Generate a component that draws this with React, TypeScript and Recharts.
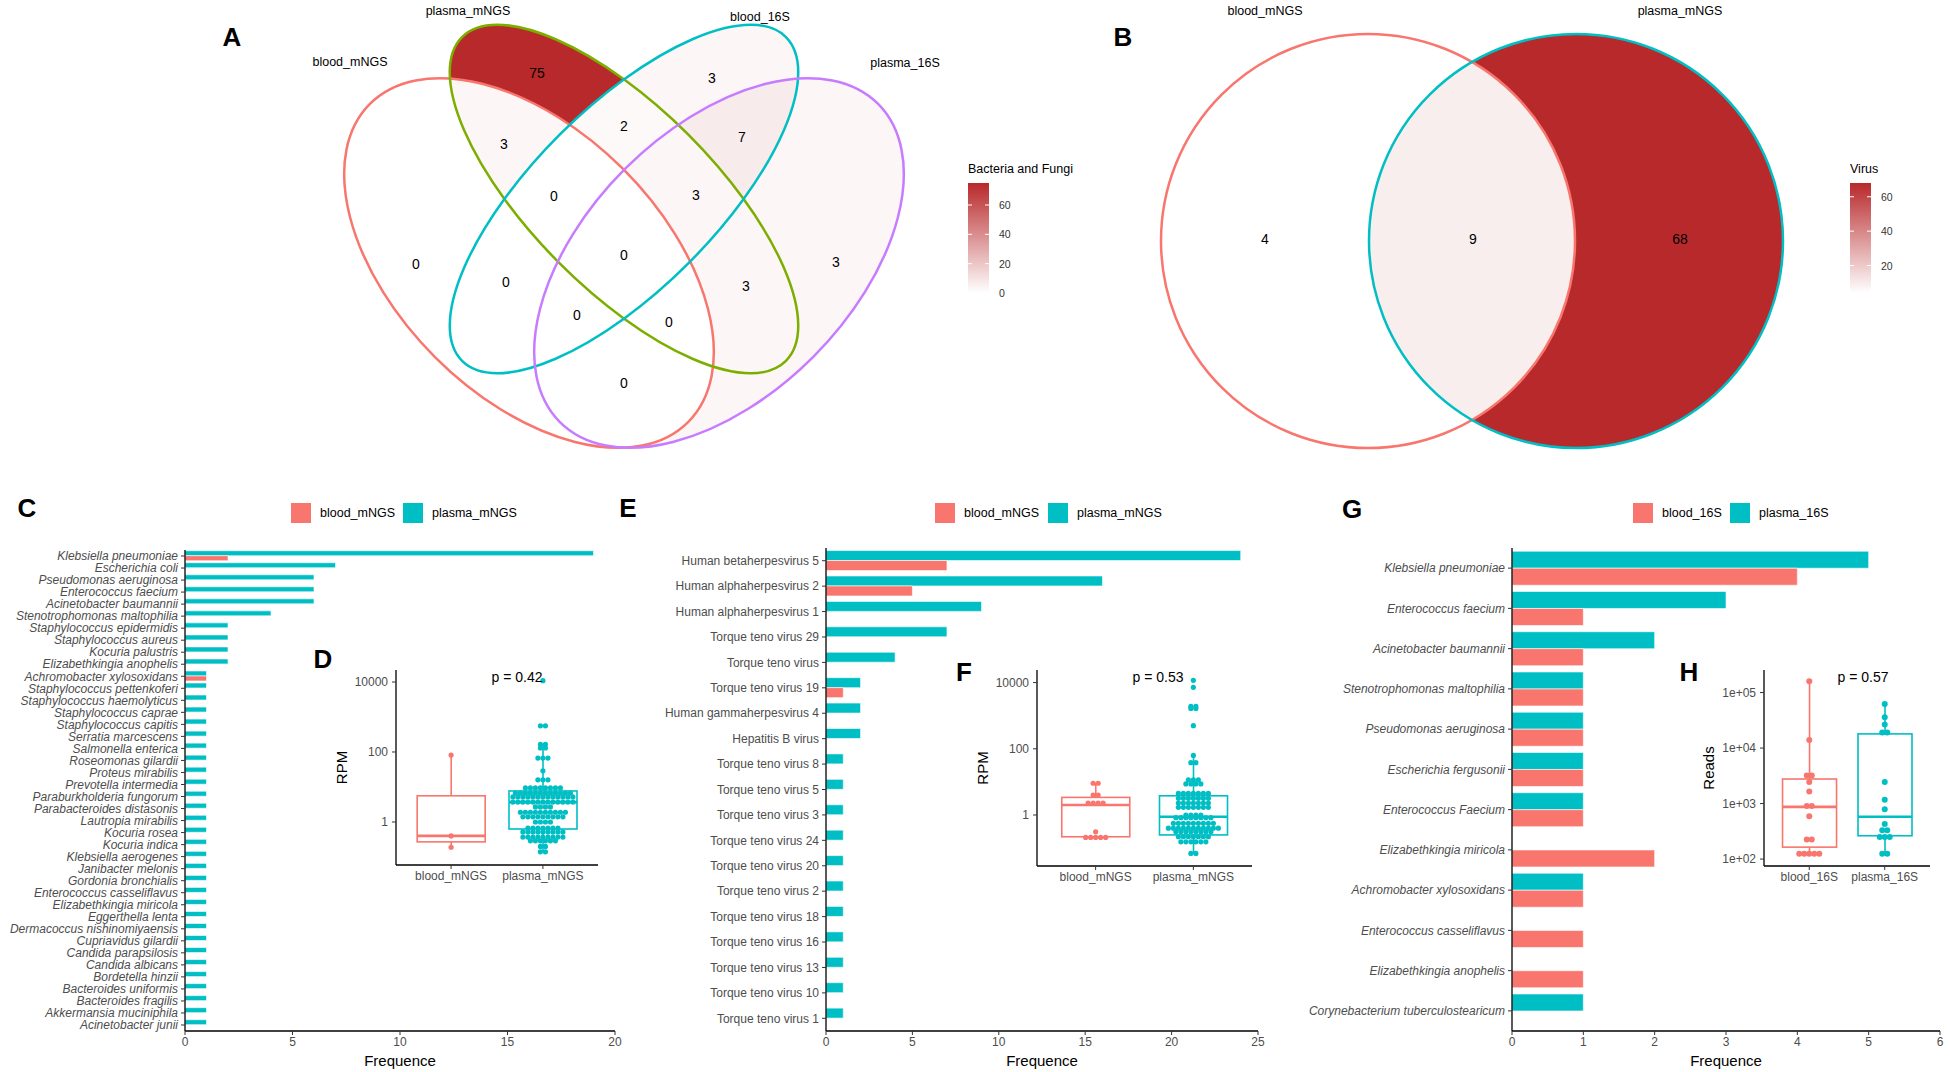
import React from "react"
import { BarChart, Bar, XAxis, YAxis, ComposedChart, Scatter, ScatterChart } from "recharts"

const RED = "#F8766D"
const TEAL = "#00BFC4"
const GREEN = "#7CAE00"
const PURPLE = "#C77CFF"
const DARK = [184, 41, 43]
const GREY = "#4D4D4D"
const FONT = '"Liberation Sans", Arial, Helvetica, sans-serif'

// ---------- A: Venn, bacteria and fungi ----------
const vennASets = ["blood_mNGS", "plasma_mNGS", "blood_16S", "plasma_16S"]
const vennAColors = [RED, GREEN, TEAL, PURPLE]
const vennACx = [-0.95, 0, 0, 0.95]
const vennACy = [0.23, -0.41, -0.41, 0.23]
const vennARa = [2.25, 2.29, 2.29, 2.25]
const vennARb = [1.33, 0.91, 0.91, 1.33]
const vennAAngle = [45, 45, -45, -45]
const vennALabelX = [-2.74, -1.56, 1.36, 2.81]
const vennALabelY = [-1.78, -2.29, -2.23, -1.77]
const vennARegionSets = [[1], [2], [1, 2], [2, 3], [0, 1], [0, 1, 2], [1, 2, 3], [0], [0, 1, 2, 3], [3], [0, 2], [1, 3], [0, 2, 3], [0, 1, 3], [0, 3]]
const vennARegionCounts = [75, 3, 2, 7, 3, 0, 3, 0, 0, 3, 0, 3, 0, 0, 0]
const vennARegionX = [-0.87, 0.88, 0, 1.18, -1.2, -0.7, 0.72, -2.08, 0, 2.12, -1.18, 1.22, -0.47, 0.45, 0]
const vennARegionY = [-1.67, -1.62, -1.14, -1.03, -0.96, -0.44, -0.45, 0.24, 0.15, 0.22, 0.42, 0.46, 0.75, 0.82, 1.43]
const vennATicks = [0, 20, 40, 60]

// ---------- B: Venn, virus ----------
const vennBSets = ["blood_mNGS", "plasma_mNGS"]
const vennBColors = [RED, TEAL]
const vennBCx = [-1.04, 1.04]
const vennBCy = [0.01, 0.01]
const vennBR = [2.07, 2.07]
const vennBAngle = [0, 0]
const vennBLabelX = [-2.07, 2.08]
const vennBLabelY = [-2.29, -2.29]
const vennBRegionSets = [[0], [0, 1], [1]]
const vennBRegionCounts = [4, 9, 68]
const vennBRegionX = [-2.07, 0.01, 2.08]
const vennBRegionY = [-0.01, -0.01, -0.01]
const vennBTicks = [20, 40, 60]

// ---------- C: bacteria / fungi frequency ----------
const cNames = [
  "Klebsiella pneumoniae", "Escherichia coli", "Pseudomonas aeruginosa", "Enterococcus faecium",
  "Acinetobacter baumannii", "Stenotrophomonas maltophilia", "Staphylococcus epidermidis",
  "Staphylococcus aureus", "Kocuria palustris", "Elizabethkingia anophelis", "Achromobacter xylosoxidans",
  "Staphylococcus pettenkoferi", "Staphylococcus haemolyticus", "Staphylococcus caprae",
  "Staphylococcus capitis", "Serratia marcescens", "Salmonella enterica", "Roseomonas gilardii",
  "Proteus mirabilis", "Prevotella intermedia", "Paraburkholderia fungorum", "Parabacteroides distasonis",
  "Lautropia mirabilis", "Kocuria rosea", "Kocuria indica", "Klebsiella aerogenes", "Janibacter melonis",
  "Gordonia bronchialis", "Enterococcus casseliflavus", "Elizabethkingia miricola", "Eggerthella lenta",
  "Dermacoccus nishinomiyaensis", "Cupriavidus gilardii", "Candida parapsilosis", "Candida albicans",
  "Bordetella hinzii", "Bacteroides uniformis", "Bacteroides fragilis", "Akkermansia muciniphila",
  "Acinetobacter junii",
]
const cPlasma = [19, 7, 6, 6, 6, 4, 2, 2, 2, 2, 1, 1, 1, 1, 1, 1, 1, 1, 1, 1, 1, 1, 1, 1, 1, 1, 1, 1, 1, 1, 1, 1, 1, 1, 1, 1, 1, 1, 1, 1]
const cBlood = [2, 0, 0, 0, 0, 0, 0, 0, 0, 0, 1, 0, 0, 0, 0, 0, 0, 0, 0, 0, 0, 0, 0, 0, 0, 0, 0, 0, 0, 0, 0, 0, 0, 0, 0, 0, 0, 0, 0, 0]
const cTicks = [0, 5, 10, 15, 20]

// ---------- E: virus frequency ----------
const eNames = [
  "Human betaherpesvirus 5", "Human alphaherpesvirus 2", "Human alphaherpesvirus 1", "Torque teno virus 29",
  "Torque teno virus", "Torque teno virus 19", "Human gammaherpesvirus 4", "Hepatitis B virus",
  "Torque teno virus 8", "Torque teno virus 5", "Torque teno virus 3", "Torque teno virus 24",
  "Torque teno virus 20", "Torque teno virus 2", "Torque teno virus 18", "Torque teno virus 16",
  "Torque teno virus 13", "Torque teno virus 10", "Torque teno virus 1",
]
const ePlasma = [24, 16, 9, 7, 4, 2, 2, 2, 1, 1, 1, 1, 1, 1, 1, 1, 1, 1, 1]
const eBlood = [7, 5, 0, 0, 0, 1, 0, 0, 0, 0, 0, 0, 0, 0, 0, 0, 0, 0, 0]
const eTicks = [0, 5, 10, 15, 20, 25]

// ---------- G: 16S frequency ----------
const gNames = [
  "Klebsiella pneumoniae", "Enterococcus faecium", "Acinetobacter baumannii", "Stenotrophomonas maltophilia",
  "Pseudomonas aeruginosa", "Escherichia fergusonii", "Enterococcus Faecium", "Elizabethkingia miricola",
  "Achromobacter xylosoxidans", "Enterococcus casseliflavus", "Elizabethkingia anophelis",
  "Corynebacterium tuberculostearicum",
]
const gPlasma = [5, 3, 2, 1, 1, 1, 1, 0, 1, 0, 0, 1]
const gBlood = [4, 1, 1, 1, 1, 1, 1, 2, 1, 1, 1, 0]
const gTicks = [0, 1, 2, 3, 4, 5, 6]

// ---------- D / F / H: box + dot plots (value, dots in row) ----------
const dGroups = ["blood_mNGS", "plasma_mNGS"]
const dBox = [
  { q1: 0.27, median: 0.4, q3: 5.6, lo: 0.19, hi: 82 },
  { q1: 0.63, median: 3.7, q3: 7.7, lo: 0.14, hi: 165 },
]
const dBloodDots = [[82, 1], [0.4, 1], [0.19, 1]]
const dPlasmaDots = [
  [10900, 1], [560, 2], [165, 2], [130, 2], [67, 3], [29, 1], [16, 3], [9.4, 8], [6.7, 12], [5.2, 13],
  [3.7, 13], [2.7, 4], [1.9, 10], [1.4, 9], [1.0, 4], [0.67, 7], [0.52, 9], [0.37, 9], [0.29, 6], [0.2, 2], [0.14, 2],
]
const dTicks = [1, 100, 10000]

const fGroups = ["blood_mNGS", "plasma_mNGS"]
const fBox = [
  { q1: 0.22, median: 2.0, q3: 3.4, lo: 0.21, hi: 9.1 },
  { q1: 0.25, median: 0.89, q3: 3.8, lo: 0.069, hi: 63 },
]
const fBloodDots = [[9.1, 2], [4.0, 2], [2.3, 4], [0.31, 1], [0.21, 5]]
const fPlasmaDots = [
  [11700, 1], [7200, 1], [1900, 2], [1650, 2], [500, 1], [63, 1], [38, 2], [11.5, 3], [8.7, 4], [4.5, 7],
  [3.2, 7], [2.3, 7], [1.7, 7], [1.0, 4], [0.83, 8], [0.56, 9], [0.4, 11], [0.31, 8], [0.22, 7], [0.155, 6], [0.069, 2],
]
const fTicks = [1, 100, 10000]

const hGroups = ["blood_16S", "plasma_16S"]
const hBox = [
  { q1: 164, median: 870, q3: 2770, lo: 125, hi: 160000 },
  { q1: 263, median: 580, q3: 18000, lo: 125, hi: 62000 },
]
const hBloodDots = [[160000, 1], [14000, 1], [3200, 2], [2450, 1], [1650, 1], [900, 2], [590, 1], [225, 2], [125, 5]]
const hPlasmaDots = [[62000, 1], [36000, 1], [26500, 1], [19000, 2], [2450, 1], [1170, 1], [790, 1], [430, 1], [330, 2], [250, 3], [125, 2]]
const hTicks = [100, 1000, 10000, 100000]

function mix(t: number) {
  const k = Math.max(0, Math.min(1, t))
  const c = DARK.map((v) => Math.round(255 + (v - 255) * k))
  return `rgb(${c.join(",")})`
}

function Txt({ x, y, size = 12, bold = false, anchor = "middle", color = "#000", children }: any) {
  const tx = anchor === "middle" ? "-50%" : anchor === "end" ? "-100%" : "0"
  return (
    <div
      style={{
        position: "absolute", left: x, top: y, transform: `translate(${tx}, -50%)`, fontSize: size,
        fontWeight: bold ? 700 : 400, color, whiteSpace: "nowrap", lineHeight: 1,
      }}
    >
      {children}
    </div>
  )
}

function Key({ x, y, color, label }: any) {
  return (
    <>
      <div style={{ position: "absolute", left: x, top: y - 10, width: 20, height: 20, background: color }} />
      <Txt x={x + 29} y={y} size={12.5} anchor="start">{label}</Txt>
    </>
  )
}

function ColorBar({ id, left, top, title, lo, hi, ticks }: any) {
  const h = 110
  const w = 21
  const yOf = (v: number) => 20 + h - ((v - lo) / (hi - lo)) * h
  return (
    <svg style={{ position: "absolute", left, top }} width={140} height={140}>
      <defs>
        <linearGradient id={id} x1="0" y1="1" x2="0" y2="0">
          <stop offset="0" stopColor="#fff" />
          <stop offset="1" stopColor={mix(1)} />
        </linearGradient>
      </defs>
      <text x={0} y={6} fontSize={12.5} dominantBaseline="central" fill="#000">{title}</text>
      <rect x={0} y={20} width={w} height={h} fill={`url(#${id})`} />
      {ticks.map((t: number) => (
        <g key={t}>
          <line x1={0} x2={4} y1={yOf(t)} y2={yOf(t)} stroke="#fff" />
          <line x1={w - 4} x2={w} y1={yOf(t)} y2={yOf(t)} stroke="#fff" />
          <text x={w + 10} y={yOf(t)} fontSize={10.5} dominantBaseline="central" fill="#333">{t}</text>
        </g>
      ))}
    </svg>
  )
}

function Venn(p: any) {
  const px = p.width / (p.xDom[1] - p.xDom[0])
  const ells = p.names.map((n: string, i: number) => ({
    i, x: p.cx[i], y: p.cy[i], a: p.ra[i], b: p.rb[i], ang: p.ang[i], color: p.colors[i],
  }))
  const labels = p.names.map((n: string, i: number) => ({ x: p.lx[i], y: p.ly[i], name: n }))
  const regions = p.regionSets.map((s: number[], i: number) => ({
    x: p.regionX[i], y: p.regionY[i], sets: s, count: p.regionCounts[i],
  }))

  const fillShape = (sp: any) => {
    const r = sp.payload
    let node = <rect x={0} y={0} width={p.width} height={p.height} fill={mix((r.count - p.lo) / (p.hi - p.lo))} />
    ells.forEach((e: any) => {
      node = r.sets.includes(e.i)
        ? <g clipPath={`url(#${p.id}-in-${e.i})`}>{node}</g>
        : <g mask={`url(#${p.id}-out-${e.i})`}>{node}</g>
    })
    return node
  }

  const ellShape = (sp: any) => {
    const e = sp.payload
    const rx = e.a * px
    const ry = e.b * px
    const tr = `rotate(${e.ang} ${sp.cx} ${sp.cy})`
    return (
      <g>
        <defs>
          <clipPath id={`${p.id}-in-${e.i}`}>
            <ellipse cx={sp.cx} cy={sp.cy} rx={rx} ry={ry} transform={tr} />
          </clipPath>
          <mask id={`${p.id}-out-${e.i}`} maskUnits="userSpaceOnUse" x={0} y={0} width={p.width} height={p.height}>
            <rect x={0} y={0} width={p.width} height={p.height} fill="#fff" />
            <ellipse cx={sp.cx} cy={sp.cy} rx={rx} ry={ry} transform={tr} fill="#000" />
          </mask>
        </defs>
        <ellipse cx={sp.cx} cy={sp.cy} rx={rx} ry={ry} transform={tr} fill="none" stroke={e.color} strokeWidth={2.5} />
      </g>
    )
  }

  const countShape = (sp: any) => (
    <text x={sp.cx} y={sp.cy} textAnchor="middle" dominantBaseline="central" fontSize={14} fill="#000">
      {sp.payload.count}
    </text>
  )
  const nameShape = (sp: any) => (
    <text x={sp.cx} y={sp.cy} textAnchor="middle" dominantBaseline="central" fontSize={12.5} fill="#000">
      {sp.payload.name}
    </text>
  )

  return (
    <div style={{ position: "absolute", left: p.left, top: p.top }}>
      <ScatterChart width={p.width} height={p.height} margin={{ top: 0, right: 0, bottom: 0, left: 0 }}>
        <XAxis type="number" dataKey="x" domain={p.xDom} hide allowDataOverflow />
        <YAxis type="number" dataKey="y" domain={p.yDom} hide reversed allowDataOverflow />
        <Scatter data={regions} shape={fillShape} isAnimationActive={false} />
        <Scatter data={ells} shape={ellShape} isAnimationActive={false} />
        <Scatter data={regions} shape={countShape} isAnimationActive={false} />
        <Scatter data={labels} shape={nameShape} isAnimationActive={false} />
      </ScatterChart>
    </div>
  )
}

// plain one-line category tick (no wrapping)
const CatTick = ({ x, y, payload, italic }: any) => (
  <text x={x} y={y} dy="0.355em" textAnchor="end" fontSize={12} fill={GREY} fontStyle={italic ? "italic" : "normal"}>
    {payload.value}
  </text>
)

function FreqBars({ names, plasma, blood, left, top, width, yWidth, marginTop, marginRight, max, ticks, italic, gap }: any) {
  const data = names.map((n: string, i: number) => ({ name: n, plasma: plasma[i], blood: blood[i] }))
  return (
    <div style={{ position: "absolute", left, top }}>
      <BarChart
        width={width} height={582} data={data} layout="vertical" barCategoryGap={gap} barGap={0}
        margin={{ top: marginTop, right: marginRight, bottom: 0, left: 0 }}
      >
        <XAxis
          type="number" domain={[0, max]} ticks={ticks} allowDataOverflow height={41}
          axisLine={{ stroke: "#000", strokeWidth: 1.3 }} tickLine={{ stroke: "#333" }} tickSize={4}
          tick={{ fill: GREY, fontSize: 12 }}
          label={{ value: "Frequence", position: "insideBottom", offset: 6, fill: "#000", fontSize: 15 }}
        />
        <YAxis
          type="category" dataKey="name" width={yWidth} interval={0}
          axisLine={{ stroke: "#000", strokeWidth: 1.3 }} tickLine={{ stroke: "#333" }} tickSize={4} tickMargin={3}
          tick={(tp: any) => <CatTick {...tp} italic={italic} />}
        />
        <Bar dataKey="plasma" fill={TEAL} stroke="#fff" strokeWidth={0.6} isAnimationActive={false} />
        <Bar dataKey="blood" fill={RED} stroke="#fff" strokeWidth={0.6} isAnimationActive={false} />
      </BarChart>
    </div>
  )
}

const BoxShape = (props: any) => {
  const { x, y, width, height, payload } = props
  const top = Math.min(y, y + height)
  const h = Math.abs(height)
  const l1 = Math.log10(payload.q1)
  const l3 = Math.log10(payload.q3)
  const k = h / (l3 - l1)
  const yOf = (v: number) => top + h - (Math.log10(v) - l1) * k
  const mid = x + width / 2
  return (
    <g stroke={payload.color} fill="none">
      <line x1={mid} x2={mid} y1={yOf(payload.hi)} y2={top} strokeWidth={1.6} />
      <line x1={mid} x2={mid} y1={top + h} y2={yOf(payload.lo)} strokeWidth={1.6} />
      <rect x={x} y={top} width={width} height={h} fill="#fff" strokeWidth={1.6} />
      <line x1={x} x2={x + width} y1={yOf(payload.median)} y2={yOf(payload.median)} strokeWidth={2.6} />
    </g>
  )
}

function stackDots(rows: number[][], x: number, color: string) {
  const out: any[] = []
  rows.forEach(([value, count]) => {
    for (let j = 0; j < count; j++) out.push({ x, value, off: j - (count - 1) / 2, color })
  })
  return out
}

function BoxInset({ left, top, width, height, yWidth, domain, ticks, fmt, label, groups, boxes, bloodDots, plasmaDots, boxW, dotR, dotStep }: any) {
  const colors = [RED, TEAL]
  const rows = boxes.map((b: any, i: number) => ({ ...b, x: i + 1, name: groups[i], color: colors[i] }))
  const dots = [...stackDots(bloodDots, 1, RED), ...stackDots(plasmaDots, 2, TEAL)]
  const dotShape = (sp: any) => (
    <circle cx={sp.cx + sp.payload.off * dotStep} cy={sp.cy} r={dotR} fill={sp.payload.color} />
  )
  return (
    <div style={{ position: "absolute", left, top }}>
      <ComposedChart width={width} height={height} data={rows} margin={{ top: 30, right: 2, bottom: 0, left: 0 }}>
        <XAxis
          type="number" dataKey="x" domain={[0.4, 2.6]} ticks={[1, 2]} allowDataOverflow height={25}
          tickFormatter={(v: number) => groups[v - 1]}
          axisLine={{ stroke: "#000", strokeWidth: 1.3 }} tickLine={{ stroke: "#333" }} tickSize={4}
          tick={{ fill: GREY, fontSize: 12 }}
        />
        <YAxis
          type="number" dataKey="value" scale="log" domain={domain} ticks={ticks} allowDataOverflow width={yWidth}
          tickFormatter={fmt} axisLine={{ stroke: "#000", strokeWidth: 1.3 }} tickLine={{ stroke: "#333" }}
          tickSize={4} tickMargin={4} tick={{ fill: GREY, fontSize: 12 }}
          label={{ value: label, angle: -90, position: "center", fill: "#000", fontSize: 15 }}
        />
        <Bar dataKey={(r: any) => [r.q1, r.q3]} barSize={boxW} shape={BoxShape} isAnimationActive={false} />
        <Scatter data={dots} shape={dotShape} isAnimationActive={false} />
      </ComposedChart>
    </div>
  )
}

const plainFmt = (v: number) => String(v)
const sciFmt = (v: number) => v.toExponential(0).replace(/e\+(\d)$/, "e+0$1")

export default function App() {
  return (
    <div style={{ position: "relative", width: 1949, height: 1072, background: "#fff", fontFamily: FONT, overflow: "hidden" }}>
      <style>{`body{margin:0}`}</style>

      <Venn
        id="vA" left={224} top={0} width={800} height={480} xDom={[-4, 4]} yDom={[-2.4, 2.4]}
        names={vennASets} colors={vennAColors} cx={vennACx} cy={vennACy} ra={vennARa} rb={vennARb} ang={vennAAngle}
        lx={vennALabelX} ly={vennALabelY} regionSets={vennARegionSets} regionCounts={vennARegionCounts}
        regionX={vennARegionX} regionY={vennARegionY} lo={0} hi={75}
      />
      <ColorBar id="cbA" left={968} top={163} title="Bacteria and Fungi" lo={0} hi={75} ticks={vennATicks} />

      <Venn
        id="vB" left={1112} top={0} width={720} height={480} xDom={[-3.6, 3.6]} yDom={[-2.4, 2.4]}
        names={vennBSets} colors={vennBColors} cx={vennBCx} cy={vennBCy} ra={vennBR} rb={vennBR} ang={vennBAngle}
        lx={vennBLabelX} ly={vennBLabelY} regionSets={vennBRegionSets} regionCounts={vennBRegionCounts}
        regionX={vennBRegionX} regionY={vennBRegionY} lo={4} hi={68}
      />
      <ColorBar id="cbB" left={1850} top={163} title="Virus" lo={4} hi={68} ticks={vennBTicks} />

      <FreqBars
        names={cNames} plasma={cPlasma} blood={cBlood} left={0} top={490} width={625} yWidth={185}
        marginTop={60} marginRight={10} max={20} ticks={cTicks} italic gap="6%"
      />
      <FreqBars
        names={eNames} plasma={ePlasma} blood={eBlood} left={600} top={490} width={670} yWidth={226}
        marginTop={58} marginRight={12} max={25} ticks={eTicks} italic={false} gap="10%"
      />
      <FreqBars
        names={gNames} plasma={gPlasma} blood={gBlood} left={1300} top={490} width={649} yWidth={212}
        marginTop={58} marginRight={9} max={6} ticks={gTicks} italic gap="8%"
      />

      <BoxInset
        left={288} top={640} width={312} height={250} yWidth={108} domain={[0.059, 22030]} ticks={dTicks}
        fmt={plainFmt} label="RPM" groups={dGroups} boxes={dBox} bloodDots={dBloodDots} plasmaDots={dPlasmaDots}
        boxW={68} dotR={2.6} dotStep={5}
      />
      <BoxInset
        left={929} top={640} width={325} height={251} yWidth={108} domain={[0.0288, 24000]} ticks={fTicks}
        fmt={plainFmt} label="RPM" groups={fGroups} boxes={fBox} bloodDots={fBloodDots} plasmaDots={fPlasmaDots}
        boxW={68} dotR={2.6} dotStep={5}
      />
      <BoxInset
        left={1654} top={640} width={278} height={251} yWidth={110} domain={[75, 255000]} ticks={hTicks}
        fmt={sciFmt} label="Reads" groups={hGroups} boxes={hBox} bloodDots={hBloodDots} plasmaDots={hPlasmaDots}
        boxW={54} dotR={3} dotStep={5}
      />

      <Key x={291} y={513} color={RED} label="blood_mNGS" />
      <Key x={403} y={513} color={TEAL} label="plasma_mNGS" />
      <Key x={935} y={513} color={RED} label="blood_mNGS" />
      <Key x={1048} y={513} color={TEAL} label="plasma_mNGS" />
      <Key x={1633} y={513} color={RED} label="blood_16S" />
      <Key x={1730} y={513} color={TEAL} label="plasma_16S" />

      <Txt x={517} y={677} size={14}>p = 0.42</Txt>
      <Txt x={1158} y={677} size={14}>p = 0.53</Txt>
      <Txt x={1863} y={677} size={14}>p = 0.57</Txt>

      <Txt x={232} y={37} size={26} bold>A</Txt>
      <Txt x={1123} y={37} size={26} bold>B</Txt>
      <Txt x={27} y={508} size={26} bold>C</Txt>
      <Txt x={323} y={659} size={26} bold>D</Txt>
      <Txt x={628} y={508} size={26} bold>E</Txt>
      <Txt x={964} y={672} size={26} bold>F</Txt>
      <Txt x={1352} y={509} size={26} bold>G</Txt>
      <Txt x={1689} y={672} size={26} bold>H</Txt>
    </div>
  )
}
